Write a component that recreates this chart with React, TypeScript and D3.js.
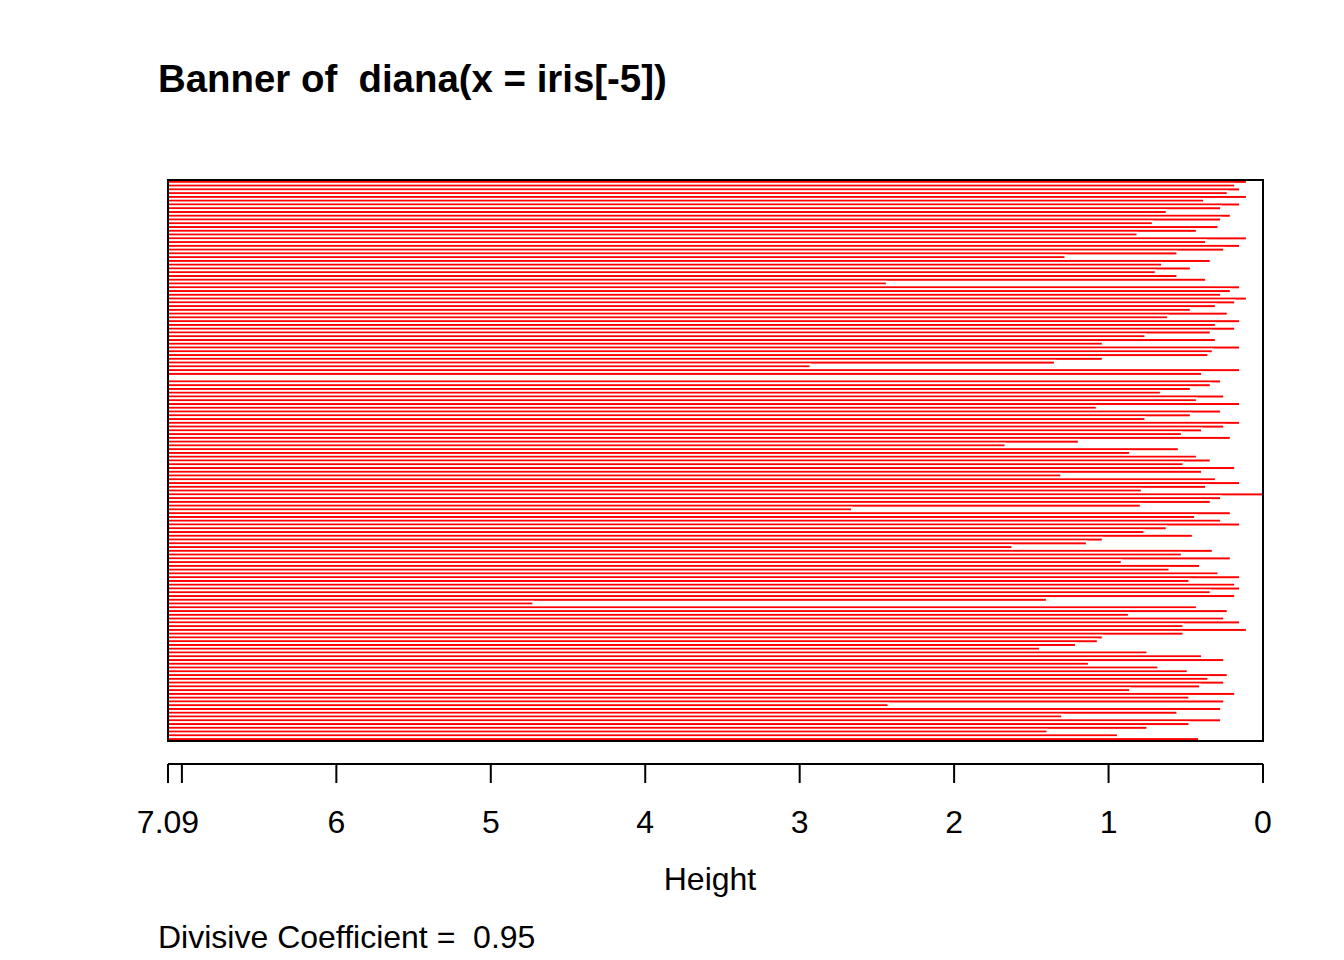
import React from "react";
import * as d3 from "d3";

// Right-end value (on the reversed "Height" axis) of each banner bar, top to bottom
const bannerEnds: number[] = [
  0.105, 0.181, 0.149, 0.229, 0.105, 0.382, 0.149, 0.272, 0.624, 0.209, 0.272, 0.714,
  0.289, 0.429, 0.813, 0.105, 0.369, 0.149, 0.252, 0.555, 1.28, 0.339, 0.654, 0.468,
  0.695, 0.555, 0.369, 2.436, 0.149, 0.209, 0.272, 0.105, 0.181, 0.306, 0.468, 0.229,
  0.615, 0.149, 0.306, 0.181, 0.339, 0.762, 0.306, 1.038, 0.149, 0.326, 0.354, 1.038,
  1.348, 2.93, 0.149, 0.395, 7.09, 0.272, 0.339, 0.468, 0.662, 0.252, 0.429, 0.149, 1.077,
  0.272, 0.468, 0.762, 0.149, 0.252, 0.395, 0.526, 0.209, 1.193, 1.668, 0.546, 0.861,
  0.429, 0.339, 0.516, 0.181, 0.395, 1.307, 0.306, 0.149, 0.369, 0.785, 0.0, 0.272,
  0.339, 0.792, 2.662, 0.209, 0.44, 0.272, 0.149, 0.624, 0.768, 0.455, 1.038, 1.141,
  1.623, 0.326, 0.526, 0.209, 0.915, 0.408, 0.606, 0.289, 0.149, 0.477, 0.181, 0.149,
  0.339, 0.181, 1.4, 4.725, 0.429, 0.229, 0.869, 0.252, 0.149, 0.516, 0.105, 0.516, 1.038,
  1.07, 1.212, 1.445, 0.749, 0.395, 0.252, 1.128, 0.678, 0.488, 0.229, 0.354, 0.252,
  0.408, 0.861, 0.181, 0.477, 0.252, 2.425, 0.272, 0.555, 1.301, 0.272, 0.477, 0.749, 1.396, 0.94, 0.414,
];

const maxHeight = 7.09;
const tickValues: number[] = [7.09, 7, 6, 5, 4, 3, 2, 1, 0];
const tickLabels: string[] = ["7.09", "", "6", "5", "4", "3", "2", "1", "0"];

const titleText = "Banner of  diana(x = iris[-5])";
const xLabel = "Height";
const subText = "Divisive Coefficient =  0.95";

export default function App() {
  const W = 1344;
  const H = 960;
  const left = 168;
  const right = 1263;
  const top = 180;
  const bottom = 741;
  const axisY = 764;

  const x = d3.scaleLinear().domain([maxHeight, 0]).range([left, right]);
  const y = d3
    .scaleBand<number>()
    .domain(d3.range(bannerEnds.length))
    .range([top, bottom])
    .paddingInner(0)
    .paddingOuter(0);

  const font = "'Liberation Sans', Arial, Helvetica, sans-serif";

  return (
    <svg
      width={W}
      height={H}
      style={{ position: "absolute", left: 0, top: 0, background: "#fff" }}
    >
      <rect x={0} y={0} width={W} height={H} fill="#fff" />
      <text
        x={158}
        y={92}
        fontFamily={font}
        fontWeight="bold"
        fontSize={38.4}
        style={{ whiteSpace: "pre" }}
      >
        {titleText}
      </text>

      <g>
        {bannerEnds.map((v, i) => {
          const x0 = x(maxHeight);
          const x1 = x(v);
          return (
            <rect
              key={i}
              x={x0}
              y={y(i)!}
              width={Math.max(0, x1 - x0)}
              height={y.bandwidth()}
              fill="#ff0000"
              stroke="#ffffff"
              strokeWidth={1.8}
            />
          );
        })}
      </g>

      <rect
        x={left}
        y={top}
        width={right - left}
        height={bottom - top}
        fill="none"
        stroke="#000"
        strokeWidth={2}
      />

      <g>
        <line
          x1={x(tickValues[0])}
          x2={x(tickValues[tickValues.length - 1])}
          y1={axisY}
          y2={axisY}
          stroke="#000"
          strokeWidth={2}
        />
        {tickValues.map((t, i) => (
          <g key={i}>
            <line
              x1={x(t)}
              x2={x(t)}
              y1={axisY}
              y2={axisY + 19}
              stroke="#000"
              strokeWidth={2}
            />
            {tickLabels[i] && (
              <text
                x={x(t)}
                y={833}
                textAnchor="middle"
                fontFamily={font}
                fontSize={32}
              >
                {tickLabels[i]}
              </text>
            )}
          </g>
        ))}
      </g>

      <text
        x={710}
        y={890}
        textAnchor="middle"
        fontFamily={font}
        fontSize={32}
      >
        {xLabel}
      </text>

      <text
        x={158}
        y={948}
        fontFamily={font}
        fontSize={32}
        style={{ whiteSpace: "pre" }}
      >
        {subText}
      </text>
    </svg>
  );
}
